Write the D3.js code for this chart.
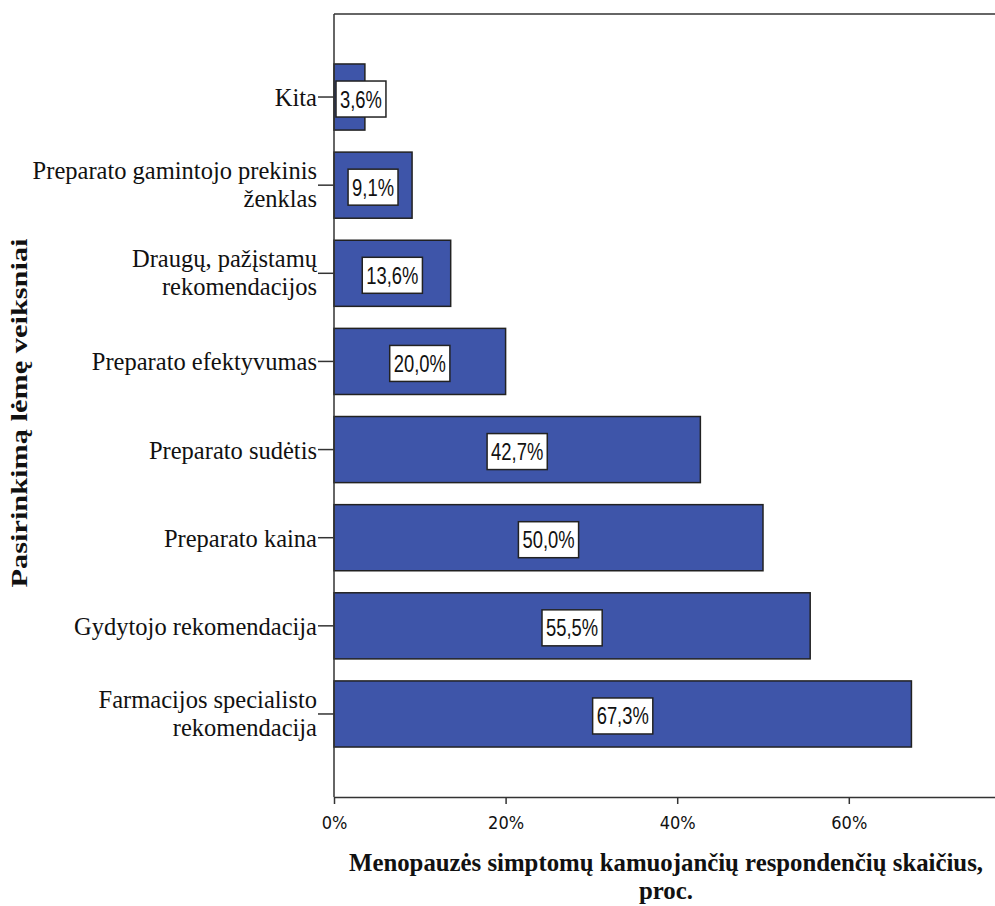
<!DOCTYPE html>
<html>
<head>
<meta charset="utf-8">
<script src="https://cdn.jsdelivr.net/npm/d3@7"></script>
<style>
  html, body { margin: 0; padding: 0; background: #fff; }
  svg { display: block; }
</style>
</head>
<body>
<script>
const categories = [
  ["Kita"],
  ["Preparato gamintojo prekinis", "ženklas"],
  ["Draugų, pažįstamų", "rekomendacijos"],
  ["Preparato efektyvumas"],
  ["Preparato sudėtis"],
  ["Preparato kaina"],
  ["Gydytojo rekomendacija"],
  ["Farmacijos specialisto", "rekomendacija"]
];
const values = [3.6, 9.1, 13.6, 20.0, 42.7, 50.0, 55.5, 67.3];
const tickValues = [0, 20, 40, 60];
const xTitle = ["Menopauzės simptomų kamuojančių respondenčių skaičius,", "proc."];
const yTitle = "Pasirinkimą lėmę veiksniai";

(function () {
const W = 995, H = 906;
const pLeft = 334, pTop = 14, pBottom = 797;
const svg = d3.select("body").append("svg").attr("width", W).attr("height", H);

const x = d3.scaleLinear().domain([0, 80]).range([pLeft, pLeft + 80 * 8.58]);
const ids = categories.map((c, i) => i);
const y = d3.scaleBand().domain(ids).range([pTop, pBottom]).paddingInner(0.25).paddingOuter(0.567);

const serif = "'Liberation Serif', 'Times New Roman', serif";
const condensed = "'DejaVu Sans Condensed', 'DejaVu Sans', sans-serif";
const sans = "'Liberation Sans', Arial, sans-serif";
const axisColor = "#333";

// bars
svg.append("g").selectAll("rect").data(values).join("rect")
  .attr("x", x(0))
  .attr("y", (d, i) => y(i))
  .attr("width", d => x(d) - x(0))
  .attr("height", y.bandwidth())
  .attr("fill", "#3e55a9")
  .attr("stroke", "#222")
  .attr("stroke-width", 1.5);

// top border
svg.append("line").attr("x1", x(0)).attr("x2", x.range()[1]).attr("y1", pTop).attr("y2", pTop)
  .attr("stroke", axisColor).attr("stroke-width", 1.5);

// x axis
const xAxis = svg.append("g").attr("transform", `translate(0,${pBottom})`)
  .call(d3.axisBottom(x).tickValues(tickValues).tickSize(7).tickSizeOuter(0).tickFormat(d => d + "%"));
xAxis.select(".domain").attr("stroke", axisColor).attr("stroke-width", 1.5);
xAxis.selectAll(".tick line").attr("stroke", axisColor).attr("stroke-width", 1.5);
xAxis.selectAll(".tick text").attr("font-family", condensed).attr("font-size", 18).attr("fill", "#111")
  .attr("y", 32).attr("dy", 0);

// y axis
const yAxis = svg.append("g").attr("transform", `translate(${pLeft},0)`)
  .call(d3.axisLeft(y).tickSize(16).tickSizeOuter(0).tickFormat(""));
yAxis.select(".domain").attr("stroke", axisColor).attr("stroke-width", 1.5).attr("d", `M0,${pTop}V${pBottom}`);
yAxis.selectAll(".tick line").attr("stroke", axisColor).attr("stroke-width", 1.5);

// category labels
const catG = svg.append("g").attr("font-family", serif).attr("font-size", 24.5).attr("fill", "#111").attr("text-anchor", "end");
categories.forEach((lines, i) => {
  const cy = y(i) + y.bandwidth() / 2;
  const t = catG.append("text");
  if (lines.length === 1) {
    t.append("tspan").attr("x", pLeft - 17).attr("y", cy + 9).text(lines[0]);
  } else {
    t.append("tspan").attr("x", pLeft - 17).attr("y", cy - 6).text(lines[0]);
    t.append("tspan").attr("x", pLeft - 17).attr("y", cy + 22).text(lines[1]);
  }
});

// value labels
const lblG = svg.append("g");
const sx = 0.8;
values.forEach((v, i) => {
  const txt = v.toFixed(1).replace(".", ",") + "%";
  const cy = y(i) + y.bandwidth() / 2 + 2;
  const t = lblG.append("text").attr("font-family", sans).attr("font-size", 23).attr("fill", "#111")
    .attr("text-anchor", "middle").text(txt);
  const tw = t.node().getComputedTextLength() * sx;
  const bw = tw + 8, bh = 36;
  let cx = (x(0) + x(v)) / 2;
  cx = Math.max(cx, x(0) + bw / 2 + 2);
  lblG.insert("rect", "text")
    .attr("x", cx - bw / 2).attr("y", cy - bh / 2).attr("width", bw).attr("height", bh)
    .attr("fill", "#fff").attr("stroke", "#222").attr("stroke-width", 1.5);
  t.attr("transform", `translate(${cx},${cy + 8.5}) scale(${sx},1)`);
});

// x title
svg.append("g").attr("font-family", serif).attr("font-weight", "bold").attr("font-size", 24.8)
  .attr("text-anchor", "middle").attr("fill", "#111")
  .selectAll("text").data(xTitle).join("text")
  .attr("x", 666).attr("y", (d, i) => 871 + i * 28).text(d => d);

// y title
svg.append("text").attr("font-family", serif).attr("font-weight", "bold").attr("font-size", 23)
  .attr("text-anchor", "middle").attr("fill", "#111")
  .attr("textLength", 349).attr("lengthAdjust", "spacingAndGlyphs")
  .attr("transform", "translate(27,413) rotate(-90)").text(yTitle);
})();
</script>
</body>
</html>
